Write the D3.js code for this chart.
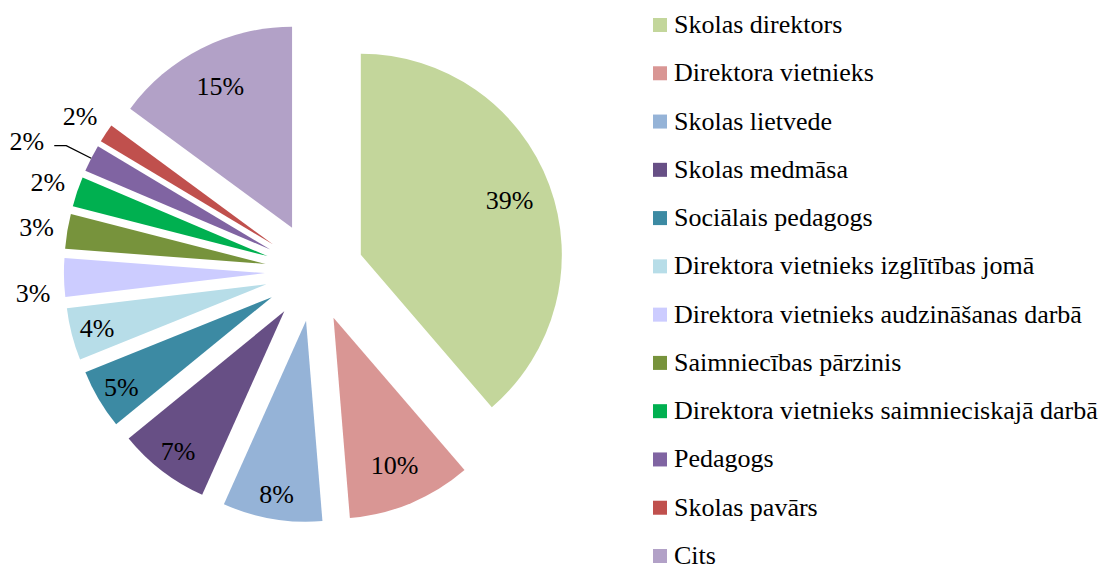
<!DOCTYPE html>
<html>
<head>
<meta charset="utf-8">
<script src="https://cdn.jsdelivr.net/npm/d3@7"></script>
</head>
<body style="margin:0">
<div id="chart"></div>
<script>
// chart data (percent of answers)
const categories = [
    'Skolas direktors',
    'Direktora vietnieks',
    'Skolas lietvede',
    'Skolas medmāsa',
    'Sociālais pedagogs',
    'Direktora vietnieks izglītības jomā',
    'Direktora vietnieks audzināšanas darbā',
    'Saimniecības pārzinis',
    'Direktora vietnieks saimnieciskajā darbā',
    'Pedagogs',
    'Skolas pavārs',
    'Cits'
];
const values = [38.7, 10.0, 8.0, 7.4, 4.8, 4.2, 3.1, 2.8, 2.4, 2.2, 1.5, 14.9];
const colors = ['#C3D69B', '#D99694', '#95B3D7', '#674F85', '#3C8AA3', '#B7DDE8',
                '#CCCCFF', '#77933C', '#00B050', '#8064A2', '#C0504D', '#B2A1C7'];

// labels that need a leader line
const leaderCategories = ['Pedagogs'];

const measurements = {
    width: 1111,
    height: 568
};

const pieBox = { cx: 314.4, cy: 272, radius: 201, explode: 49.5 };

// unit vector for an angle measured clockwise from 12 o'clock
function dir(a) {
    return [Math.sin(a), -Math.cos(a)];
}

const svg = d3.select('#chart')
    .append('svg')
    .attr('width', measurements.width)
    .attr('height', measurements.height);

const rows = categories.map((c, i) => ({ name: c, value: values[i], color: colors[i] }));

// pie
const pie = d3.pie()
    .sort(null)
    .value((d) => d.value);

const arc = d3.arc()
    .innerRadius(0)
    .outerRadius(pieBox.radius);

const pieG = svg.append('g')
    .attr('transform', 'translate(' + pieBox.cx + ',' + pieBox.cy + ')');

const arcs = pie(rows);

pieG.selectAll('path.slice')
    .data(arcs)
    .enter()
    .append('path')
    .attr('class', 'slice')
    .attr('transform', function(d) {
        const u = dir((d.startAngle + d.endAngle) / 2);
        return 'translate(' + (u[0] * pieBox.explode) + ',' + (u[1] * pieBox.explode) + ')';
    })
    .attr('d', arc)
    .style('fill', (d) => d.data.color);

// small manual nudge, like the label placement of the original
const nudge = { 'Direktora vietnieks audzināšanas darbā': 14 };

function labelPos(d) {
    const u = dir((d.startAngle + d.endAngle) / 2);
    const r = pieBox.radius;
    let k;
    if (leaderCategories.includes(d.data.name)) k = r + 28;
    else if (d.data.value < 4) k = r + 31;
    else if (d.data.value >= 10) k = r * 0.79;
    else k = r * 0.87;
    const x = u[0] * (k + pieBox.explode);
    const y = u[1] * (k + pieBox.explode) + (nudge[d.data.name] || 0);
    if (leaderCategories.includes(d.data.name)) return [x - 22, y - 5];
    return [x, y];
}

// leader lines
pieG.selectAll('path.leader')
    .data(arcs.filter((d) => leaderCategories.includes(d.data.name)))
    .enter()
    .append('path')
    .attr('class', 'leader')
    .attr('d', function(d) {
        const u = dir((d.startAngle + d.endAngle) / 2);
        const r = pieBox.radius + pieBox.explode;
        const elbow = [u[0] * (r + 28), u[1] * (r + 28)];
        return d3.line()([[u[0] * r, u[1] * r], elbow, [elbow[0] - 12, elbow[1]]]);
    })
    .style('fill', 'none')
    .style('stroke', '#000')
    .style('stroke-width', 1.3);

pieG.selectAll('text')
    .data(arcs)
    .enter()
    .append('text')
    .attr('x', (d) => labelPos(d)[0])
    .attr('y', (d) => labelPos(d)[1])
    .attr('dy', '0.36em')
    .attr('text-anchor', (d) => leaderCategories.includes(d.data.name) ? 'end' : 'middle')
    .style('font-family', 'Times New Roman')
    .style('font-size', '26px')
    .text((d) => Math.round(d.data.value) + '%');

// legend
const legendY = d3.scalePoint()
    .domain(categories)
    .range([25, 556]);

svg.selectAll('rect.key')
    .data(rows)
    .enter()
    .append('rect')
    .attr('class', 'key')
    .attr('x', 653)
    .attr('y', (d) => legendY(d.name) - 7)
    .attr('width', 14)
    .attr('height', 14)
    .style('fill', (d) => d.color);

svg.selectAll('text.key')
    .data(rows)
    .enter()
    .append('text')
    .attr('class', 'key')
    .attr('x', 674)
    .attr('y', (d) => legendY(d.name) + 8)
    .style('font-family', 'Times New Roman')
    .style('font-size', '26px')
    .text((d) => d.name);
</script>
</body>
</html>
